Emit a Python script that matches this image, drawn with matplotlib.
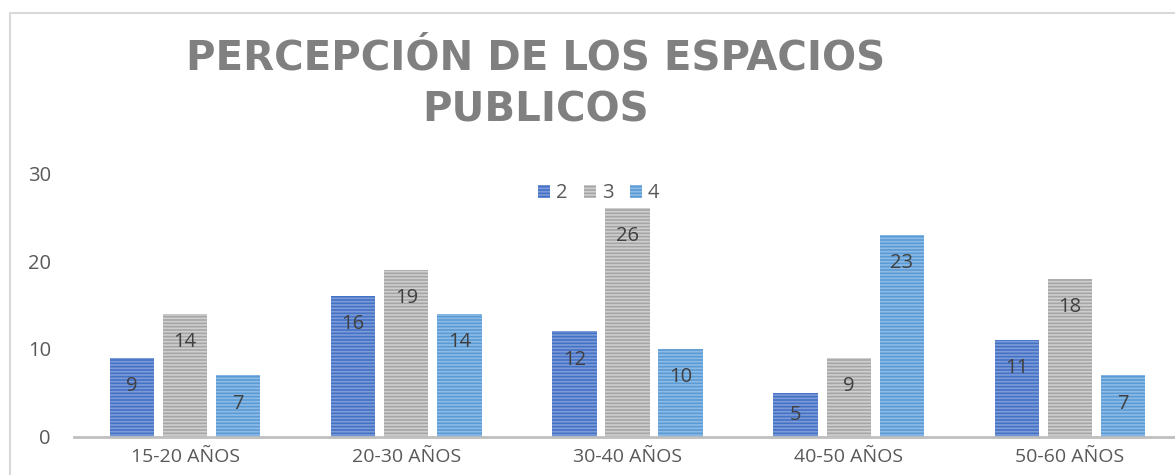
import matplotlib.pyplot as plt
import matplotlib.patches as mpatches
import numpy as np

# data
categorias = ['15-20 AÑOS', '20-30 AÑOS', '30-40 AÑOS', '40-50 AÑOS', '50-60 AÑOS']
serie_2 = [9, 16, 12, 5, 11]
serie_3 = [14, 19, 26, 9, 18]
serie_4 = [7, 14, 10, 23, 7]
nombres = ['2', '3', '4']

colores = ['#4472C4', '#A5A5A5', '#5B9BD5']
rayas = ['#7C9BD8', '#CFCFCF', '#8DBBE6']

plt.rcParams['font.family'] = ['Open Sans', 'DejaVu Sans']
plt.rcParams['hatch.linewidth'] = 1.2

fig = plt.figure(figsize=(11.75, 4.75), dpi=100)
ax = fig.add_axes([74.5 / 1175, 38 / 475, 1106 / 1175, 264 / 475])

# outer chart border (light gray), runs off the right/bottom edge
fig.add_artist(mpatches.Rectangle((9.5 / 1175, -0.1), 1.2, (475 - 13.5) / 475 + 0.1,
                                  transform=fig.transFigure, fill=False,
                                  edgecolor='#D9D9D9', linewidth=1.5))

x = np.arange(len(categorias))
ancho = 0.2
paso = 0.24
for i, (vals, c, r, nom) in enumerate(zip([serie_2, serie_3, serie_4], colores, rayas, nombres)):
    pos = x + (i - 1) * paso
    ax.bar(pos, vals, ancho, color=c, edgecolor=r, hatch='-----', linewidth=0, label=nom)
    for p, v in zip(pos, vals):
        # label sits near the top of the bar (inside end), centred for short bars
        y = max(v - 3.2, v / 2)
        ax.text(p, y, str(v), ha='center', va='center', fontsize=14.5, color='#404040')

ax.set_xlim(-0.5, len(categorias) - 0.5)
ax.set_ylim(0, 30)
ax.set_yticks([0, 10, 20, 30])
ax.set_xticks(x)
ax.set_xticklabels(categorias)
ax.tick_params(axis='both', length=0, labelsize=14.5, colors='#595959')
ax.tick_params(axis='y', pad=17)
ax.tick_params(axis='x', labelsize=14, pad=8)
for s in ['top', 'right', 'left']:
    ax.spines[s].set_visible(False)
ax.spines['bottom'].set_color('#BFBFBF')
ax.spines['bottom'].set_linewidth(2)

ax.legend(loc='upper center', bbox_to_anchor=(0.474, 1.03), ncol=3, frameon=False,
          fontsize=14.5, handlelength=0.6, handleheight=0.6, columnspacing=0.8,
          handletextpad=0.3, labelcolor='#595959')

fig.text(536 / 1175, 1 - 58 / 475, 'PERCEPCIÓN DE LOS ESPACIOS', ha='center', va='center',
         fontsize=29, fontweight='bold', color='#808080', family='DejaVu Sans')
fig.text(536 / 1175, 1 - 111 / 475, 'PUBLICOS', ha='center', va='center',
         fontsize=29, fontweight='bold', color='#808080', family='DejaVu Sans')

fig.savefig('out.png', dpi=100)
